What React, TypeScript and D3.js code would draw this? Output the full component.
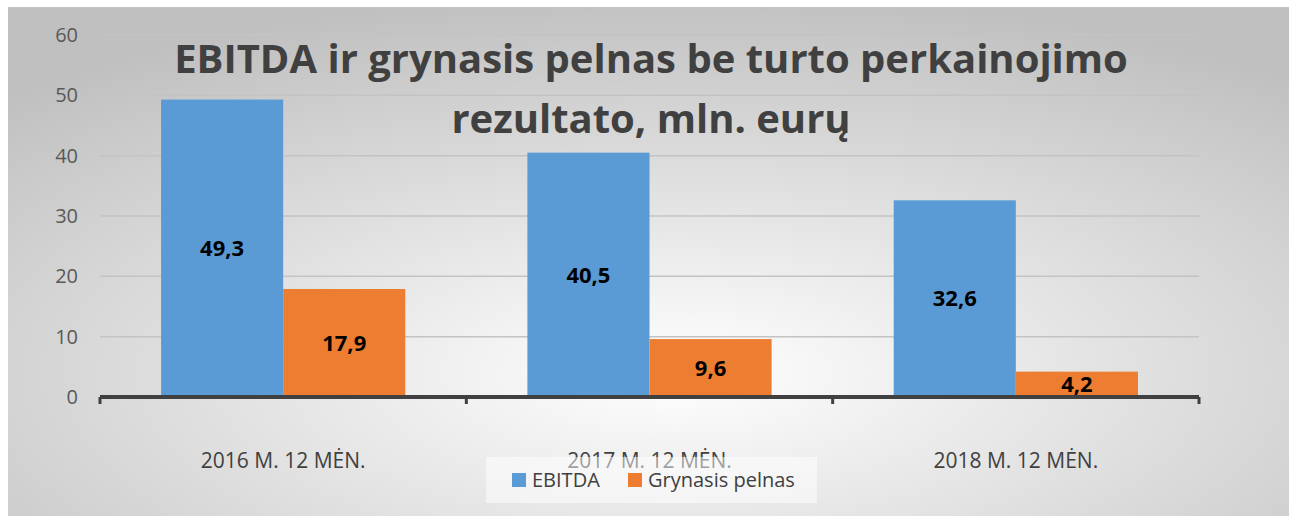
import React, { useEffect, useRef } from 'react';
import * as d3 from 'd3';

const categories = ['2016 M. 12 MĖN.', '2017 M. 12 MĖN.', '2018 M. 12 MĖN.'];
const seriesNames = ['EBITDA', 'Grynasis pelnas'];
const ebitda = [49.3, 40.5, 32.6];
const netProfit = [17.9, 9.6, 4.2];
const yTicks = [0, 10, 20, 30, 40, 50, 60];
const titleLines = ['EBITDA ir grynasis pelnas be turto perkainojimo', 'rezultato, mln. eurų'];
const colors = ['#5B9BD5', '#ED7D31'];

const W = 1289;
const H = 516;
const FONT = '"Open Sans", sans-serif';

const App: React.FC = () => {
  const svgRef = useRef<SVGSVGElement>(null);

  useEffect(() => {
    if (!svgRef.current) return;
    const svg = d3.select(svgRef.current);
    svg.selectAll('*').remove();

    const defs = svg.append('defs');
    const grad = defs.append('radialGradient')
      .attr('id', 'bg')
      .attr('cx', '52%').attr('cy', '72%').attr('r', '75%');
    grad.append('stop').attr('offset', '0%').attr('stop-color', '#ffffff');
    grad.append('stop').attr('offset', '100%').attr('stop-color', '#c0c0c0');

    svg.append('rect').attr('width', W).attr('height', H).attr('fill', '#ffffff');
    svg.append('rect')
      .attr('x', 8).attr('y', 7)
      .attr('width', W - 8).attr('height', H - 7)
      .attr('fill', 'url(#bg)');
    svg.append('line')
      .attr('x1', 8).attr('x2', W).attr('y1', 7.5).attr('y2', 7.5)
      .attr('stroke', '#c4c4c4');

    const margin = { left: 100, right: 90, top: 35, bottom: 118 };
    const plotW = W - margin.left - margin.right;
    const plotH = 397 - margin.top;
    const g = svg.append('g').attr('transform', `translate(${margin.left},${margin.top})`);

    const x0 = d3.scaleBand<string>().domain(categories).range([0, plotW]).padding(0);
    const x1 = d3.scaleBand<string>()
      .domain(seriesNames)
      .range([x0.bandwidth() / 6, x0.bandwidth() * 5 / 6])
      .padding(0);
    const y = d3.scaleLinear().domain([0, 60]).range([plotH, 0]);

    // gridlines
    g.selectAll('.grid')
      .data(yTicks.filter(t => t > 0))
      .enter()
      .append('line')
      .attr('x1', 0).attr('x2', plotW)
      .attr('y1', d => y(d)).attr('y2', d => y(d))
      .attr('stroke', '#c3c3c3').attr('stroke-width', 1.5);

    // y labels
    g.selectAll('.ylab')
      .data(yTicks)
      .enter()
      .append('text')
      .attr('x', -22)
      .attr('y', d => y(d))
      .attr('dy', '0.35em')
      .attr('text-anchor', 'end')
      .attr('font-family', FONT)
      .attr('font-size', 20)
      .attr('fill', '#595959')
      .text(d => d);

    const data = categories.map((c, i) => ({ cat: c, values: [ebitda[i], netProfit[i]] }));

    const groups = g.selectAll('.cat')
      .data(data)
      .enter()
      .append('g')
      .attr('transform', d => `translate(${x0(d.cat)},0)`);

    groups.selectAll('rect')
      .data(d => d.values.map((v, j) => ({ name: seriesNames[j], v, j })))
      .enter()
      .append('rect')
      .attr('x', d => x1(d.name) as number)
      .attr('width', x1.bandwidth())
      .attr('y', d => y(d.v))
      .attr('height', d => y(0) - y(d.v))
      .attr('fill', d => colors[d.j]);

    groups.selectAll('.val')
      .data(d => d.values.map((v, j) => ({ name: seriesNames[j], v })))
      .enter()
      .append('text')
      .attr('x', d => (x1(d.name) as number) + x1.bandwidth() / 2)
      .attr('y', d => (y(d.v) + y(0)) / 2)
      .attr('dy', '0.35em')
      .attr('text-anchor', 'middle')
      .attr('font-family', FONT)
      .attr('font-weight', 'bold')
      .attr('font-size', 22)
      .attr('fill', '#000000')
      .text(d => d.v.toFixed(1).replace('.', ','));

    // x axis
    g.append('line')
      .attr('x1', 0).attr('x2', plotW)
      .attr('y1', y(0)).attr('y2', y(0))
      .attr('stroke', '#404040').attr('stroke-width', 4);
    const tickXs = [0, ...categories.map(c => (x0(c) as number) + x0.bandwidth())];
    g.selectAll('.xtick')
      .data(tickXs)
      .enter()
      .append('line')
      .attr('x1', d => d).attr('x2', d => d)
      .attr('y1', y(0)).attr('y2', y(0) + 7)
      .attr('stroke', '#404040').attr('stroke-width', 3);

    g.selectAll('.xlab')
      .data(categories)
      .enter()
      .append('text')
      .attr('x', d => (x0(d) as number) + x0.bandwidth() / 2)
      .attr('y', 468 - margin.top)
      .attr('text-anchor', 'middle')
      .attr('font-family', FONT)
      .attr('font-size', 21)
      .attr('fill', '#404040')
      .text(d => d);

    // title
    svg.selectAll('.title')
      .data(titleLines)
      .enter()
      .append('text')
      .attr('x', 651)
      .attr('y', (d, i) => 73 + i * 60)
      .attr('text-anchor', 'middle')
      .attr('font-family', FONT)
      .attr('font-weight', 'bold')
      .attr('font-size', 40)
      .attr('fill', '#404040')
      .text(d => d);

    // legend
    const leg = svg.append('g').attr('transform', 'translate(486,457)');
    leg.append('rect')
      .attr('width', 331).attr('height', 46)
      .attr('fill', '#ffffff').attr('fill-opacity', 0.5);
    const items = leg.selectAll('.item')
      .data(seriesNames)
      .enter()
      .append('g')
      .attr('transform', (d, i) => `translate(${26 + i * 116},16)`);
    items.append('rect')
      .attr('width', 14).attr('height', 14)
      .attr('fill', (d, i) => colors[i]);
    items.append('text')
      .attr('x', 20).attr('y', 7)
      .attr('dy', '0.35em')
      .attr('font-family', FONT)
      .attr('font-size', 20)
      .attr('fill', '#404040')
      .text(d => d);
  }, []);

  return (
    <div style={{ position: 'absolute', left: 0, top: 0 }}>
      <svg ref={svgRef} width={W} height={H} style={{ display: 'block' }} />
    </div>
  );
};

export default App;
